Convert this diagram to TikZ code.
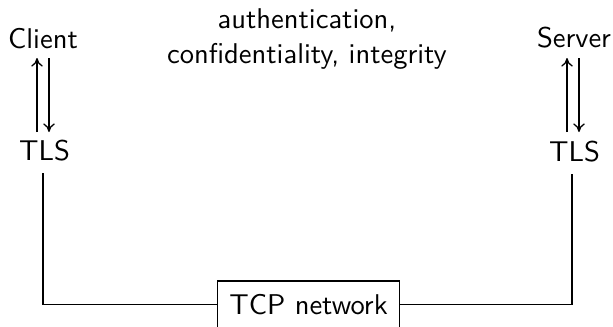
\documentclass[tikz,border=0pt]{standalone}
\usetikzlibrary{arrows.meta,calc}
\begin{document}
\begin{tikzpicture}[x=0.35pt,y=-0.35pt,
  every node/.style={font=\sffamily, inner sep=0pt},
  link/.style={line width=0.45pt},
  flow/.style={line width=0.45pt,-{To[length=3pt,width=4pt]}}]
\useasboundingbox (0,0) rectangle (613,326);
\clip (0,0) rectangle (613,326);
% applications and the guarantees TLS gives them
\node (client) at (43,39) {Client};
\node (server) at (574,38) {Server};
\node[align=center] (props) at (307,39) {authentication,\\confidentiality, integrity};
% TLS layers
\node (tlsL) at (44.5,151) {TLS};
\node (tlsR) at (574.5,152) {TLS};
% transport network
\node[minimum width=63.35pt] (tcp) at (308.5,304.5) {TCP network};
\draw[link] ($(tcp.west)+(0,-23.5)$) rectangle ($(tcp.east)+(0,60)$);
% data passing up and down between application and TLS
\coordinate (cLup) at (37,58);  \coordinate (tLup) at (37,132);
\coordinate (cLdn) at (49,58);  \coordinate (tLdn) at (49,132);
\coordinate (cRup) at (567,58); \coordinate (tRup) at (567,132);
\coordinate (cRdn) at (579,58); \coordinate (tRdn) at (579,132);
\draw[flow] (tLup) -- (cLup);
\draw[flow] (cLdn) -- (tLdn);
\draw[flow] (tRup) -- (cRup);
\draw[flow] (cRdn) -- (tRdn);
% TLS records carried over the network
\draw[link] ($(tlsL.south)+(-1.5,11)$) |- (tcp.west);
\draw[link] ($(tlsR.south)+(-2.5,11)$) |- (tcp.east);
\end{tikzpicture}
\end{document}
